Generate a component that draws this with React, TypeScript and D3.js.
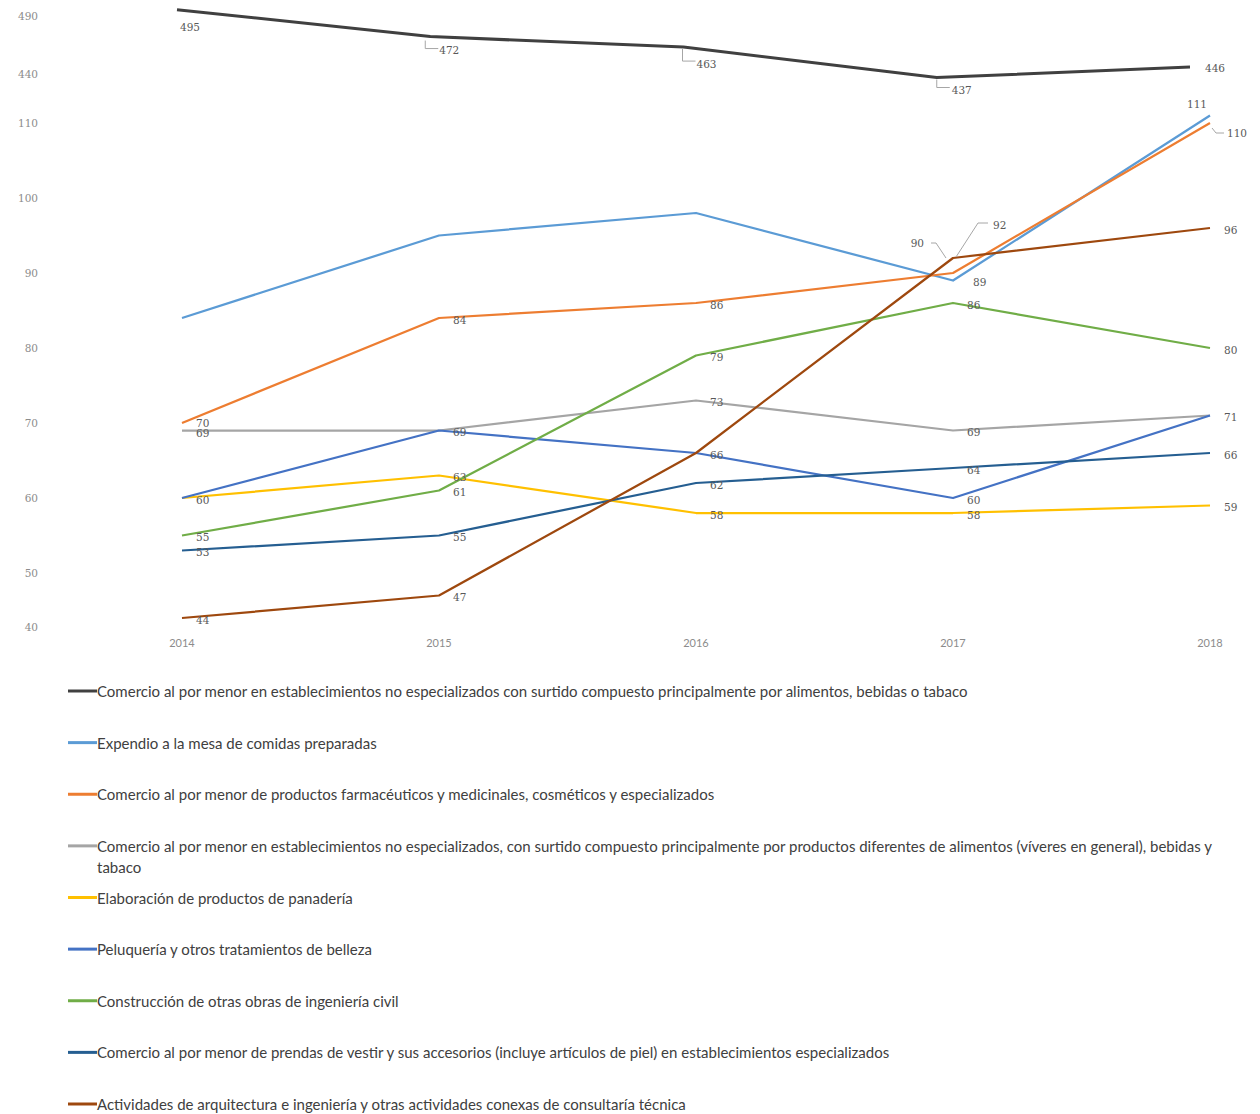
import React, { useMemo } from "react";
import * as d3 from "d3";

const years = ["2014", "2015", "2016", "2017", "2018"];

const seriesNames = [
  "Comercio al por menor en establecimientos no especializados con surtido compuesto principalmente por alimentos, bebidas o tabaco",
  "Expendio a la mesa de comidas preparadas",
  "Comercio al por menor de productos farmacéuticos y medicinales, cosméticos y  especializados",
  "Comercio al por menor en establecimientos no especializados, con surtido compuesto principalmente por productos diferentes de alimentos (víveres en general), bebidas y tabaco",
  "Elaboración de productos de panadería",
  "Peluquería y otros tratamientos de belleza",
  "Construcción de otras obras de ingeniería civil",
  "Comercio al por menor de prendas de vestir y sus accesorios (incluye artículos de piel) en establecimientos especializados",
  "Actividades de arquitectura e ingeniería y otras actividades conexas de consultaría técnica",
];

const seriesColors = [
  "#404040",
  "#5B9BD5",
  "#ED7D31",
  "#A5A5A5",
  "#FFC000",
  "#4472C4",
  "#70AD47",
  "#255E91",
  "#9E480E",
];

const vComercioAlimentos = [495, 472, 463, 437, 446];
const vExpendio = [84, 95, 98, 89, 111];
const vFarmaceuticos = [70, 84, 86, 90, 110];
const vComercioOtros = [69, 69, 73, 69, 71];
const vPanaderia = [60, 63, 58, 58, 59];
const vPeluqueria = [60, 69, 66, 60, 71];
const vConstruccion = [55, 61, 79, 86, 80];
const vPrendas = [53, 55, 62, 64, 66];
const vArquitectura = [44, 47, 66, 92, 96];

const seriesValues = [
  vComercioAlimentos,
  vExpendio,
  vFarmaceuticos,
  vComercioOtros,
  vPanaderia,
  vPeluqueria,
  vConstruccion,
  vPrendas,
  vArquitectura,
];

// which data labels are shown in the original
const labelShown = [
  [1, 1, 1, 1, 1],
  [0, 0, 0, 1, 1],
  [1, 1, 1, 1, 1],
  [1, 0, 1, 1, 0],
  [1, 1, 1, 1, 1],
  [0, 1, 1, 1, 1],
  [1, 1, 1, 1, 1],
  [1, 1, 1, 1, 1],
  [1, 1, 0, 1, 1],
];

const upperTicks = [440, 490];
const lowerTicks = [40, 50, 60, 70, 80, 90, 100, 110];

type Place = { dx: number; dy: number; anchor?: string; leader?: string };
const defaultPlace: Place = { dx: 14, dy: 1.5 };
const specialPlace: Record<string, Place> = {
  "0-0": { dx: 3, dy: 17 },
  "0-1": { dx: 9, dy: 13, leader: "M-5,4V12H8" },
  "0-2": { dx: 13, dy: 17, leader: "M-1,1V14H12" },
  "0-3": { dx: 15, dy: 12, leader: "M0,2V10H13" },
  "0-4": { dx: 15, dy: 1 },
  "1-3": { dx: 20, dy: 1 },
  "1-4": { dx: -13, dy: -12, anchor: "middle" },
  "2-0": { dx: 14, dy: 0 },
  "2-3": { dx: -29, dy: -30, anchor: "end", leader: "M-22,-30H-17L-7,-15" },
  "2-4": { dx: 17, dy: 10, leader: "M2,5L6,10H14" },
  "3-0": { dx: 14, dy: 2.5 },
  "8-3": { dx: 40, dy: -33, leader: "M35,-35H25L3,-1" },
};

const W = 1260;
const H = 1114;
const axisBottom = 627;
const LEGEND_FONT = "15px Lato";

function wrapText(text: string, maxW: number): string[] {
  const canvas = document.createElement("canvas");
  const ctx = canvas.getContext("2d");
  if (!ctx) return [text];
  ctx.font = LEGEND_FONT;
  const words = text.split(" ");
  const lines: string[] = [];
  let cur = "";
  for (const w of words) {
    const t = cur === "" ? w : cur + " " + w;
    if (ctx.measureText(t).width > maxW && cur !== "") {
      lines.push(cur);
      cur = w;
    } else cur = t;
  }
  if (cur) lines.push(cur);
  return lines;
}

export default function App() {
  const xLower = d3.scalePoint<string>().domain(years).range([182, 1210]);
  const xUpper = d3.scalePoint<string>().domain(years).range([177, 1190]);
  const yUpper = d3.scaleLinear().domain([440, 490]).range([74, 15.5]);
  const yLower = d3.scaleLinear().domain([50, 110]).range([573, 123]);

  const legendY = d3.scaleLinear().domain([0, 8]).range([691, 1104]);

  const legendLines = useMemo(() => seriesNames.map((n) => wrapText(n, 1118)), []);

  const pos = (s: number, i: number, v: number): [number, number] =>
    s === 0
      ? [xUpper(years[i]) as number, yUpper(v)]
      : [xLower(years[i]) as number, yLower(v)];

  return (
    <div style={{ position: "absolute", left: 0, top: 0 }}>
      <svg width={W} height={H} style={{ display: "block", background: "#fff" }}>
        {/* y tick labels */}
        <g fontFamily="DejaVu Serif" fontSize={10.5} fill="#8c8c8c" textAnchor="end">
          {upperTicks.map((t) => (
            <text key={"u" + t} x={38} y={yUpper(t)} dominantBaseline="central">
              {t}
            </text>
          ))}
          {lowerTicks.map((t) => (
            <text
              key={"l" + t}
              x={38}
              y={Math.min(yLower(t), axisBottom)}
              dominantBaseline="central"
            >
              {t}
            </text>
          ))}
        </g>
        {/* x labels */}
        <g fontFamily="Lato" fontSize={11} fill="#8c8c8c" textAnchor="middle">
          {years.map((yv) => (
            <text key={yv} x={xLower(yv)} y={642} dominantBaseline="central">
              {yv}
            </text>
          ))}
        </g>
        {/* lines */}
        {seriesValues.map((vals, s) => {
          const line = d3
            .line<number>()
            .x((v, i) => pos(s, i, v)[0])
            .y((v, i) => pos(s, i, v)[1]);
          return (
            <path
              key={"line" + s}
              d={line(vals) || ""}
              fill="none"
              stroke={seriesColors[s]}
              strokeWidth={s === 0 ? 3 : 2.25}
              strokeLinejoin="round"
            />
          );
        })}
        {/* data labels */}
        <g fontFamily="DejaVu Serif" fontSize={10.5} fill="#595959">
          {seriesValues.map((vals, s) =>
            vals.map((v, i) => {
              if (!labelShown[s][i]) return null;
              const [px, py] = pos(s, i, v);
              const pl = specialPlace[`${s}-${i}`] || defaultPlace;
              return (
                <g key={`lab${s}-${i}`} transform={`translate(${px},${py})`}>
                  {pl.leader && (
                    <path d={pl.leader} fill="none" stroke="#a6a6a6" strokeWidth={1} />
                  )}
                  <text
                    x={pl.dx}
                    y={pl.dy}
                    textAnchor={pl.anchor || "start"}
                    dominantBaseline="central"
                  >
                    {v}
                  </text>
                </g>
              );
            })
          )}
        </g>
        {/* legend */}
        <g fontFamily="Lato" fontSize={15} fill="#404040">
          {seriesNames.map((n, s) => {
            const y = legendY(s);
            return (
              <g key={"leg" + s}>
                <line x1={68} x2={97} y1={y} y2={y} stroke={seriesColors[s]} strokeWidth={3} />
                {legendLines[s].map((ln, k) => (
                  <text key={k} x={97} y={y + k * 21} dominantBaseline="central">
                    {ln}
                  </text>
                ))}
              </g>
            );
          })}
        </g>
      </svg>
    </div>
  );
}
